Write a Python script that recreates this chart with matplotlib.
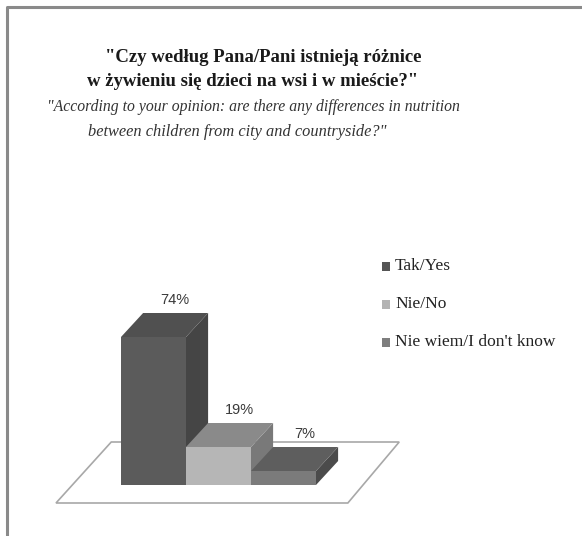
import matplotlib
matplotlib.use("Agg")
import matplotlib.pyplot as plt
from matplotlib.patches import Polygon

# data
categories = ["Tak/Yes", "Nie/No", "Nie wiem/I don't know"]
values = [74, 19, 7]
labels = ["74%", "19%", "7%"]

front_cols = ["#5b5b5b", "#b6b6b6", "#7b7b7b"]
top_cols = ["#505050", "#8a8a8a", "#5e5e5e"]
side_cols = ["#454545", "#797979", "#4b4b4b"]
legend_cols = ["#555555", "#b3b3b3", "#7e7e7e"]

W, H = 582, 536
fig = plt.figure(figsize=(W / 100, H / 100), dpi=100)

# full-figure axes in pixel units for frame, titles, legend
bg = fig.add_axes([0, 0, 1, 1])
bg.set_xlim(0, W)
bg.set_ylim(H, 0)
bg.axis("off")
bg.plot([7, 7, W], [H, 6.5, 6.5], color="#8a8a8a", lw=2.2, solid_capstyle="butt")

bg.text(263, 57, "\"Czy według Pana/Pani istnieją różnice", ha="center", va="center",
        family="Liberation Serif", weight="bold", fontsize=13.5, color="#1a1a1a")
bg.text(253, 82, "w żywieniu się dzieci na wsi i w mieście?\"", ha="center", va="center",
        family="Liberation Serif", weight="bold", fontsize=13.5, color="#1a1a1a")
bg.text(253, 107, "\"According to your opinion: are there any differences in nutrition",
        ha="center", va="center", family="Liberation Serif", style="italic",
        fontsize=11.3, color="#333333")
bg.text(237, 132, "between children from city and countryside?\"",
        ha="center", va="center", family="Liberation Serif", style="italic",
        fontsize=11.8, color="#333333")

# legend
for i, (name, c) in enumerate(zip(categories, legend_cols)):
    y = 266 + i * 38
    bg.add_patch(plt.Rectangle((382, y - 4.5), 8, 9, color=c, lw=0))
    bg.text(395, y, name, ha="left", va="center", family="Liberation Serif",
            fontsize=12.5, color="#222222")

# bar axes: x in category units, y in percent
ax = fig.add_axes([121 / W, (H - 485) / H, 195 / W, 200 / H])
ax.set_xlim(0, 3)
ax.set_ylim(0, 100)
ax.axis("off")

dx, dy = 0.34, 12.0  # oblique depth offset
floor = Polygon([(-1.0, -9), (3.49, -9), (4.28, 21.5), (-0.15, 21.5)], closed=True,
                facecolor="white", edgecolor="#a8a8a8", lw=1.2, clip_on=False)
ax.add_patch(floor)

for i, v in enumerate(values):
    x0, x1 = i, i + 1
    front = Polygon([(x0, 0), (x1, 0), (x1, v), (x0, v)], closed=True,
                    facecolor=front_cols[i], lw=0, clip_on=False)
    top = Polygon([(x0, v), (x1, v), (x1 + dx, v + dy), (x0 + dx, v + dy)], closed=True,
                  facecolor=top_cols[i], lw=0, clip_on=False)
    side = Polygon([(x1, 0), (x1 + dx, dy), (x1 + dx, v + dy), (x1, v)], closed=True,
                   facecolor=side_cols[i], lw=0, clip_on=False)
    for p in (front, side, top):
        ax.add_patch(p)
    ax.text(i + 0.5 + dx * 0.95, v + dy + 6.5, labels[i], ha="center", va="center",
            family="Liberation Sans", fontsize=10.5, color="#3a3a3a", clip_on=False)

fig.savefig("out.png", dpi=100)
